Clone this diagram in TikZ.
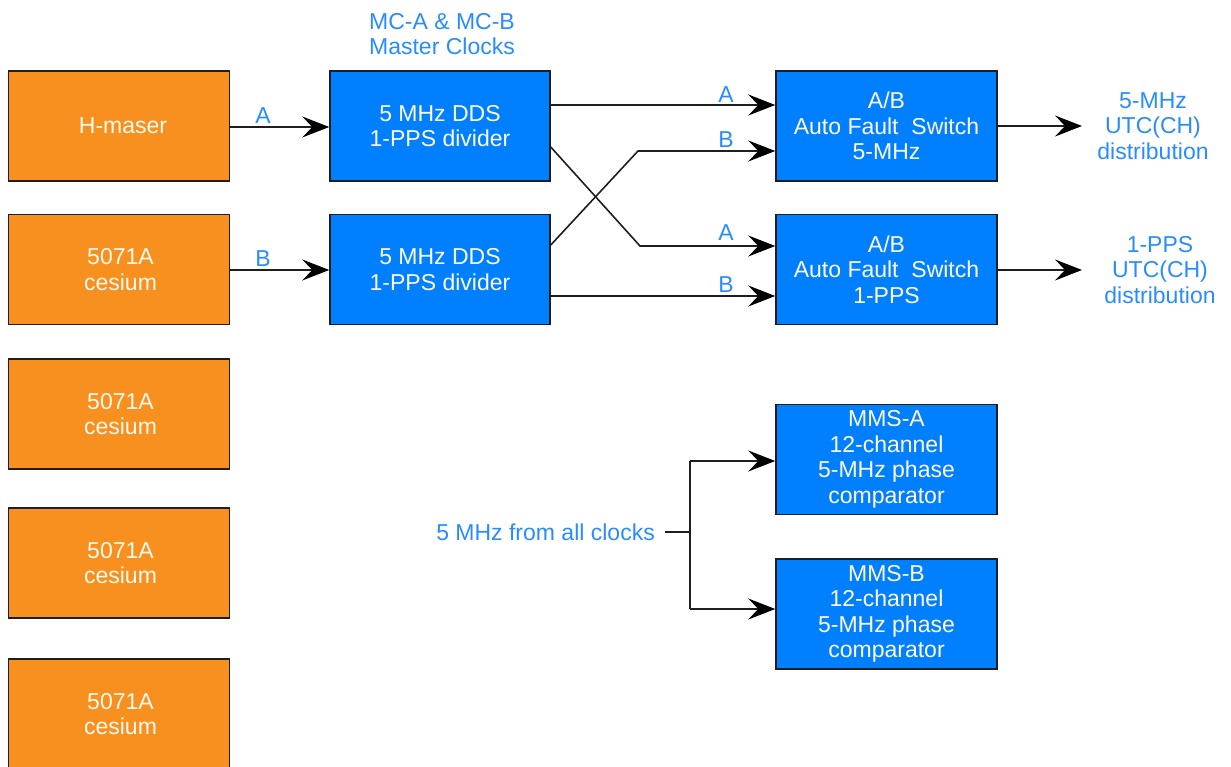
\documentclass[tikz,border=0pt]{standalone}
\usepackage{fontspec}
\setmainfont{Liberation Sans}
\usetikzlibrary{arrows.meta}
\definecolor{orangebox}{RGB}{247,144,30}
\definecolor{bluebox}{RGB}{0,128,255}
\definecolor{lbl}{RGB}{40,140,255}
\definecolor{edgec}{RGB}{30,30,30}
\definecolor{boxtext}{RGB}{255,250,240}
\begin{document}
\begin{tikzpicture}[x=1pt,y=-1pt,
  box/.style={draw=edgec,line width=1.5pt,minimum width=221pt,minimum height=110pt,inner sep=0pt,align=center,text=boxtext,font=\fontsize{23}{25.5}\selectfont},
  obox/.style={box,fill=orangebox},
  bbox/.style={box,fill=bluebox},
  lab/.style={text=lbl,inner sep=0pt,align=center,font=\fontsize{23}{25.5}\selectfont},
  conn/.style={draw=edgec,line width=1.6pt},
  arr/.style={conn,-{Stealth[length=27pt,width=21pt,inset=10pt,color=black]}}]
\clip (0,0) rectangle (1231,767);
\useasboundingbox (0,0) rectangle (1231,767);
% sources
\node[obox] (hm) at (119,126) {\hspace*{8pt}H-maser};
\node[obox] (cs1) at (119,269.5) {\hspace*{3pt}5071A\\\hspace*{3pt}cesium};
\node[obox] (cs2) at (119,414) {\hspace*{3pt}5071A\\\hspace*{3pt}cesium};
\node[obox] (cs3) at (119,563) {\hspace*{3pt}5071A\\\hspace*{3pt}cesium};
\node[obox] (cs4) at (119,714) {\hspace*{3pt}5071A\\\hspace*{3pt}cesium};
% master clocks
\node[lab] (title) at (442,34) {MC-A \& MC-B\\Master Clocks};
\node[bbox,minimum width=220pt] (mcA) at (440,126) {5 MHz DDS\\1-PPS divider};
\node[bbox,minimum width=220pt] (mcB) at (440,269.5) {5 MHz DDS\\1-PPS divider};
% switches
\node[bbox] (sw1) at (886.5,126) {A/B\\Auto Fault~ Switch\\5-MHz};
\node[bbox] (sw2) at (886.5,269.5) {A/B\\Auto Fault~ Switch\\1-PPS};
% phase comparators
\node[bbox] (mmsA) at (886.5,459.5) {MMS-A\\12-channel\\5-MHz phase\\comparator};
\node[bbox] (mmsB) at (886.5,614) {MMS-B\\12-channel\\5-MHz phase\\comparator};
% outputs
\node[lab] (out1) at (1153,126) {5-MHz\\UTC(CH)\\distribution};
\node[lab] (out2) at (1160,270) {1-PPS\\UTC(CH)\\distribution};
\node[lab,anchor=east] (src) at (655,532) {5 MHz from all clocks};
% connectors
\draw[arr] (hm.east |- 0,127) -- node[lab,above=3pt,pos=0.33] (la1) {A} (mcA.west |- 0,127);
\draw[arr] (cs1.east |- 0,270) -- node[lab,above=3pt,pos=0.33] (lb1) {B} (mcB.west |- 0,270);
\coordinate (k1) at (640,246);
\coordinate (k2) at (638,151);
\draw[arr] (mcA.east |- 0,105) -- (sw1.west |- 0,105);
\draw[arr] (mcA.east |- 0,147) -- (k1) -- (sw2.west |- k1);
\draw[arr] (mcB.east |- 0,245) -- (k2) -- (sw1.west |- k2);
\draw[arr] (mcB.east |- 0,296) -- (sw2.west |- 0,296);
\node[lab] (la2) at (726,95) {A};
\node[lab] (lb2) at (726,140) {B};
\node[lab] (la3) at (726,233) {A};
\node[lab] (lb3) at (726,285) {B};
\coordinate (t1) at (1082,126);
\coordinate (t2) at (1082,270);
\draw[arr] (sw1.east |- t1) -- (t1);
\draw[arr] (sw2.east |- t2) -- (t2);
\coordinate (jn) at (690,532);
\draw[conn] ([xshift=10pt]src.east) -- (jn);
\draw[arr] (jn |- 0,461) -- (mmsA.west |- 0,461);
\draw[arr] (jn |- 0,609) -- (mmsB.west |- 0,609);
\draw[conn] (jn |- 0,461) -- (jn |- 0,609);
\end{tikzpicture}
\end{document}
